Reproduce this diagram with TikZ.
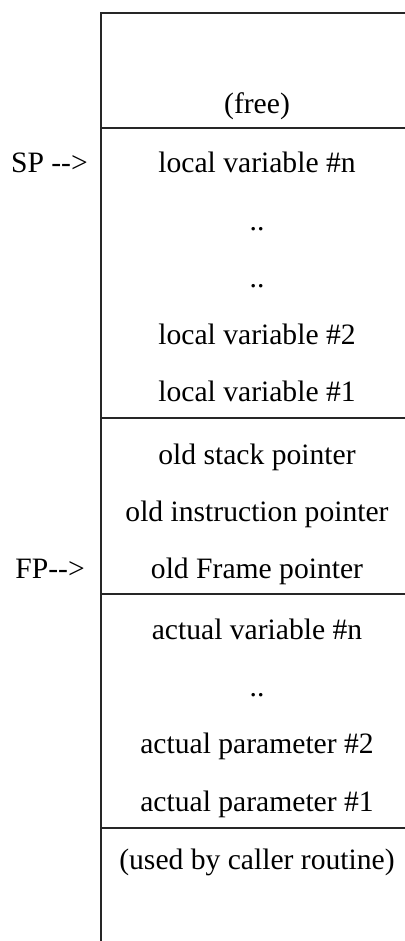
\documentclass[tikz,border=0pt]{standalone}
\usepackage{fontspec}
\setmainfont{Liberation Serif}
\newcommand{\StackT}[1]{\fontsize{29.6}{34}\selectfont #1}

\begin{document}
\begin{tikzpicture}[x=1pt,y=1pt]
          \tikzstyle{slot} = [inner sep=0pt, text height=20pt, text depth=6pt, font=\StackT{}]
          \tikzstyle{ptr} = [inner sep=0pt, anchor=base east, font=\StackT{}]
          \tikzstyle{line} = [draw, line width=2pt, line cap=rect, black!85]

          \useasboundingbox (0,0) rectangle (404,-941);

          % frame and dividers
          \coordinate(frameTop) at (101,-13);
          \coordinate(frameBottom) at (101,-941);
          \draw[line] (frameBottom) -- (frameTop) -- (404,-13);
          \foreach \y in {128,418,594,828}
            \draw[line] (101,-\y) -- (404,-\y);

          \node(free)[slot] at (257,-107) {(free)};

          % locals
          \tikzset{node distance = 57pt}
          \node(localN)[slot] at (257,-166) {local variable \#n};
          \node(dotsA)[slot,below of = localN]{..};
          \node(dotsB)[slot,below of = dotsA]{..};
          \node(localTwo)[slot,below of = dotsB]{local variable \#2};
          \node(localOne)[slot,below of = localTwo]{local variable \#1};

          % saved registers
          \tikzset{node distance = 63pt}
          \node(oldSP)[slot,below of = localOne]{old stack pointer};
          \tikzset{node distance = 57pt}
          \node(oldIP)[slot,below of = oldSP]{old instruction pointer};
          \node(oldFP)[slot,below of = oldIP]{old Frame pointer};

          % parameters
          \tikzset{node distance = 61pt}
          \node(actualN)[slot,below of = oldFP]{actual variable \#n};
          \tikzset{node distance = 57pt}
          \node(dotsC)[slot,below of = actualN]{..};
          \node(paramTwo)[slot,below of = dotsC]{actual parameter \#2};
          \tikzset{node distance = 58pt}
          \node(paramOne)[slot,below of = paramTwo]{actual parameter \#1};
          \node(caller)[slot,below of = paramOne]{(used by caller routine)};

          \node(sp)[ptr] at (88,-173) {SP -{}-{}>};
          \node(fp)[ptr] at (85,-578) {FP-{}-{}>};
        \end{tikzpicture}
\end{document}
